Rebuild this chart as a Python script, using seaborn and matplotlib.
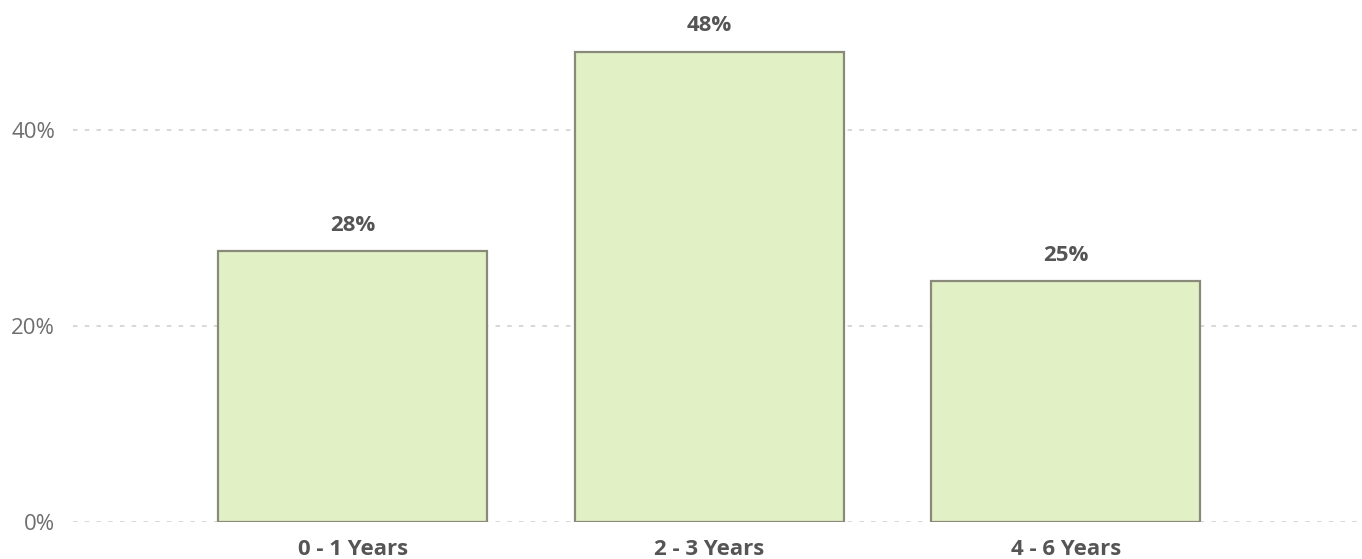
import matplotlib
matplotlib.use("Agg")
import matplotlib.pyplot as plt
import seaborn as sns
import pandas as pd

categories = ["0 - 1 Years", "2 - 3 Years", "4 - 6 Years"]
values = [0.276, 0.48, 0.246]
label_texts = ["28%", "48%", "25%"]
y_ticks = [0.0, 0.2, 0.4]
y_tick_labels = ["0%", "20%", "40%"]

sns.set_theme(style="white")
plt.rcParams["font.family"] = ["Open Sans", "DejaVu Sans"]

df = pd.DataFrame({"cat": categories, "val": values})

fig = plt.figure(figsize=(13.62, 5.59), dpi=100)
ax = fig.add_axes([73 / 1362, 37 / 559, (1358 - 73) / 1362, (522 - 10) / 559])

sns.barplot(data=df, x="cat", y="val", ax=ax, color="#e2f0c6", saturation=1,
            edgecolor="#8a8a7a", linewidth=1.6, width=0.755, zorder=3)

ax.set_xlim(-0.785, 2.82)
ax.set_ylim(0, 0.5224)
ax.set_yticks(y_ticks)
ax.set_yticklabels(y_tick_labels)
ax.yaxis.grid(True, color="#d4d4d4", linestyle=(0, (2.5, 4)), linewidth=1.3, zorder=0)
ax.xaxis.grid(False)
for s in ax.spines.values():
    s.set_visible(False)
ax.tick_params(axis="y", length=0, pad=13, labelsize=16, labelcolor="#6e6e6e")
ax.tick_params(axis="x", length=0, pad=12, labelsize=16, labelcolor="#555555")
for t in ax.get_xticklabels():
    t.set_fontweight("bold")
ax.set_xlabel("")
ax.set_ylabel("")

ax.bar_label(ax.containers[0], labels=label_texts, padding=11, fontsize=16,
             fontweight="bold", color="#555555")

fig.savefig("out.png", dpi=100)
